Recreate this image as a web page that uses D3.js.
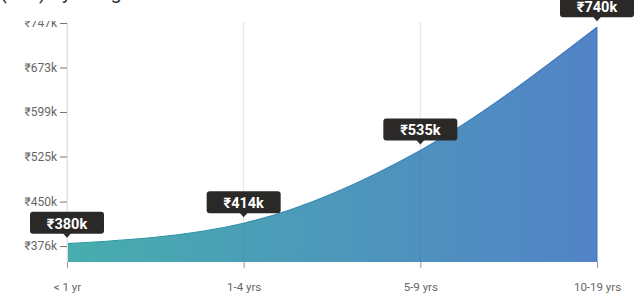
<!DOCTYPE html>
<html>
<head>
<meta charset="utf-8">
<script src="https://cdn.jsdelivr.net/npm/d3@7"></script>
<style>
  body { margin: 0; background: #fff; font-family: Roboto, "Noto Sans", sans-serif; }
  #chart { position: relative; width: 634px; height: 298px; overflow: hidden; }
  .title { position: absolute; left: 0; top: -20px; font-size: 20px; color: #333; white-space: nowrap; }
</style>
</head>
<body>
<div id="chart"><div class="title">(INR) by Range</div></div>
<script>
// experience buckets and median pay (thousands of rupees)
var categories = ["< 1 yr", "1-4 yrs", "5-9 yrs", "10-19 yrs"];
var values = [380, 414, 535, 740];
var yTicks = [376, 450, 525, 599, 673, 747];

var width = 634, height = 298;
var margin = {top: 22, right: 37, bottom: 36, left: 67};
var innerW = width - margin.left - margin.right,
    innerH = height - margin.top - margin.bottom;

var svg = d3.select("#chart").append("svg")
    .attr("width", width)
    .attr("height", height)
    .style("position", "absolute").style("left", 0).style("top", 0);

var defs = svg.append("defs");
var grad = defs.append("linearGradient").attr("id", "fillGrad")
    .attr("x1", "0%").attr("x2", "100%").attr("y1", "0%").attr("y2", "0%");
grad.append("stop").attr("offset", "0%").attr("stop-color", "#47adae");
grad.append("stop").attr("offset", "100%").attr("stop-color", "#5283c7");
var sgrad = defs.append("linearGradient").attr("id", "strokeGrad")
    .attr("x1", "0%").attr("x2", "100%").attr("y1", "0%").attr("y2", "0%");
sgrad.append("stop").attr("offset", "0%").attr("stop-color", "#2a9c9f");
sgrad.append("stop").attr("offset", "100%").attr("stop-color", "#3f74c2");

defs.append("clipPath").attr("id", "topClip")
  .append("rect").attr("x", 0).attr("y", 21).attr("width", width).attr("height", height);

var g = svg.append("g")
    .attr("transform", "translate(" + margin.left + "," + margin.top + ")");

var x = d3.scalePoint().domain(categories).range([0, innerW]);
var y = d3.scaleLinear().domain([349.5, 747]).range([innerH, 1]);

// grid lines
g.selectAll(".grid").data(categories.slice(0, 3)).enter().append("line")
    .attr("x1", function(d) { return x(d); })
    .attr("x2", function(d) { return x(d); })
    .attr("y1", 0).attr("y2", innerH)
    .attr("stroke", "#e2e2e2").attr("stroke-width", 1);

// area
var area = d3.area()
    .x(function(d, i) { return x(categories[i]); })
    .y0(innerH)
    .y1(function(d) { return y(d); })
    .curve(d3.curveMonotoneX);
var line = d3.line()
    .x(function(d, i) { return x(categories[i]); })
    .y(function(d) { return y(d); })
    .curve(d3.curveMonotoneX);

g.append("path").datum(values)
    .attr("d", area)
    .attr("fill", "url(#fillGrad)");
g.append("path").datum(values)
    .attr("d", line)
    .attr("fill", "none")
    .attr("stroke", "url(#strokeGrad)")
    .attr("stroke-width", 1.2);
g.append("line")
    .attr("x1", 0).attr("x2", innerW).attr("y1", innerH - 0.5).attr("y2", innerH - 0.5)
    .attr("stroke", "url(#strokeGrad)").attr("stroke-width", 1.2).attr("opacity", 0.7);
g.append("line")
    .attr("x1", innerW).attr("x2", innerW).attr("y1", y(values[3])).attr("y2", innerH)
    .attr("stroke", "#3f74c2").attr("stroke-width", 1);
// faint gridlines over area
g.selectAll(".grid2").data(categories.slice(1, 3)).enter().append("line")
    .attr("x1", function(d) { return x(d); })
    .attr("x2", function(d) { return x(d); })
    .attr("y1", function(d, i) { return y(values[i + 1]); }).attr("y2", innerH)
    .attr("stroke", "#3d7f9a").attr("stroke-opacity", 0.35).attr("stroke-width", 1);

// y axis
var yAxis = g.append("g").attr("clip-path", "url(#topClip)")
    .call(d3.axisLeft(y).tickValues(yTicks).tickSize(7).tickPadding(3)
      .tickFormat(function(d) { return "\u20b9" + d + "k"; }));
yAxis.select(".domain").attr("stroke", "#e2e2e2").attr("d", "M0.5," + y(747) + "V" + innerH);
yAxis.selectAll(".tick line").attr("stroke", "#777");
yAxis.selectAll("text").attr("fill", "#666").style("font-size", "12px").style("font-family", "Roboto");
svg.select("#topClip rect").attr("transform", "translate(" + (-margin.left) + "," + (-margin.top) + ")");

// x axis
var xAxis = g.append("g").attr("transform", "translate(0," + innerH + ")")
    .call(d3.axisBottom(x).tickSize(6).tickPadding(15));
xAxis.select(".domain").remove();
xAxis.selectAll(".tick line").attr("stroke", "#999");
xAxis.selectAll("text").attr("fill", "#666").style("font-size", "11.5px").style("font-family", "Roboto");

// value labels
var labels = g.selectAll(".lbl").data(values).enter().append("g")
    .attr("transform", function(d, i) { return "translate(" + x(categories[i]) + "," + (y(d) - 5) + ")"; });
labels.append("rect")
    .attr("x", -37).attr("y", -27).attr("width", 74).attr("height", 22)
    .attr("rx", 3).attr("fill", "#2b2928");
labels.append("path")
    .attr("d", "M-4,-5.5L0,-1L4,-5.5Z").attr("fill", "#2b2928");
labels.append("text")
    .attr("y", -10).attr("text-anchor", "middle")
    .attr("fill", "#fff").style("font-size", "14.5px").style("font-weight", "bold")
    .style("font-family", "Roboto")
    .text(function(d) { return "\u20b9" + d + "k"; });
</script>
</body>
</html>
